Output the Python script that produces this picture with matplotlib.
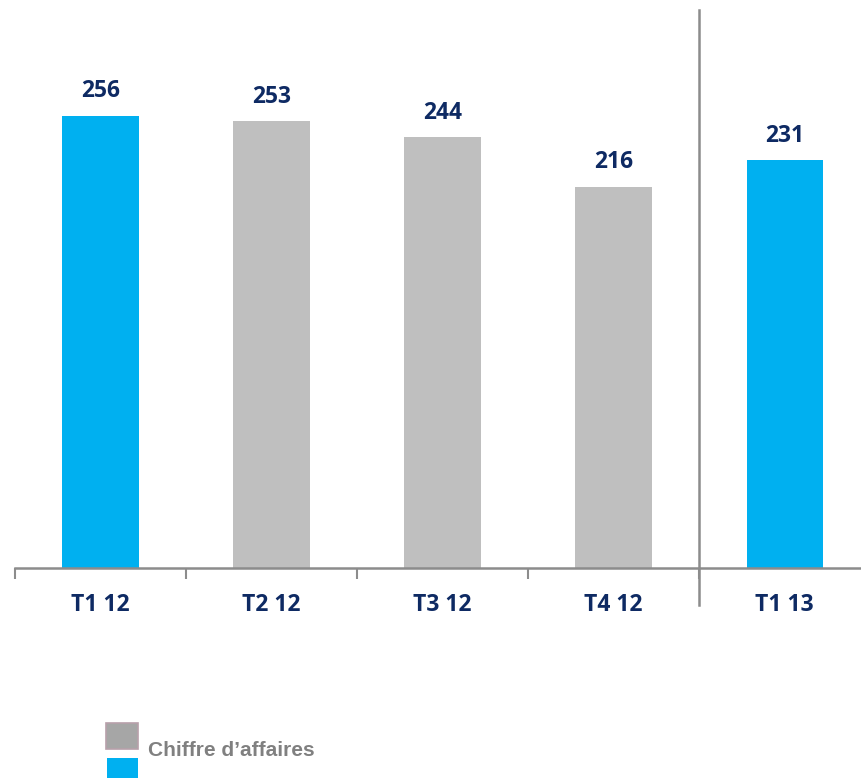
import matplotlib.pyplot as plt
from matplotlib.patches import Rectangle

# Quarterly revenue
quarters = ["T1 12", "T2 12", "T3 12", "T4 12", "T1 13"]
revenue = [256, 253, 244, 216, 231]
bar_colors = ["#00B0F0", "#BFBFBF", "#BFBFBF", "#BFBFBF", "#00B0F0"]
legend_label = "Chiffre d\u2019affaires"

navy = "#0E2A63"
grey_line = "#8C8C8C"

fig = plt.figure(figsize=(8.61, 7.78), dpi=100)
ax = fig.add_axes([15 / 861, 210 / 778, 846 / 861, 568 / 778])

x = range(len(quarters))
bars = ax.bar(x, revenue, width=0.445, color=bar_colors, zorder=2)

# Value labels above each bar
for rect, val in zip(bars, revenue):
    ax.annotate(str(val), (rect.get_x() + rect.get_width() / 2, val),
                xytext=(0, 9), textcoords="offset points",
                ha="center", va="bottom", fontsize=16.5, fontweight="bold",
                color=navy, family="Open Sans")

ax.set_xlim(-0.5, 4.447)
ax.set_ylim(0, 321.6)

# Category labels centred between the boundary ticks
ax.set_xticks([i - 0.5 for i in range(len(quarters))])
ax.set_xticklabels([])
ax.tick_params(axis="x", length=8, width=1.5, color=grey_line, direction="out")
ax.set_yticks([])
for i, q in enumerate(quarters):
    ax.text(i, -0.065, q, transform=ax.get_xaxis_transform(),
            ha="center", va="center", fontsize=16.5, fontweight="bold",
            color=navy, family="Open Sans")

for side in ["top", "right", "left"]:
    ax.spines[side].set_visible(False)
ax.spines["bottom"].set_color(grey_line)
ax.spines["bottom"].set_linewidth(1.8)

# Separator between 2012 and 2013
ax.axvline(3.5, ymin=-0.065, ymax=0.982, color=grey_line, lw=1.8, clip_on=False)

# Legend swatches
fig.patches.append(Rectangle((106 / 861, (778 - 749) / 778), 32 / 861, 26 / 778,
                             transform=fig.transFigure, facecolor="#A6A6A6",
                             edgecolor="#B8A0AA", lw=1.2))
fig.patches.append(Rectangle((107 / 861, 0), 31 / 861, 20 / 778,
                             transform=fig.transFigure, facecolor="#00B0F0",
                             edgecolor="none"))
fig.text(148 / 861, (778 - 750) / 778, legend_label, ha="left", va="center",
         fontsize=15, fontweight="bold", color="#808080", family="Liberation Sans")

fig.savefig("out.png", dpi=100)
